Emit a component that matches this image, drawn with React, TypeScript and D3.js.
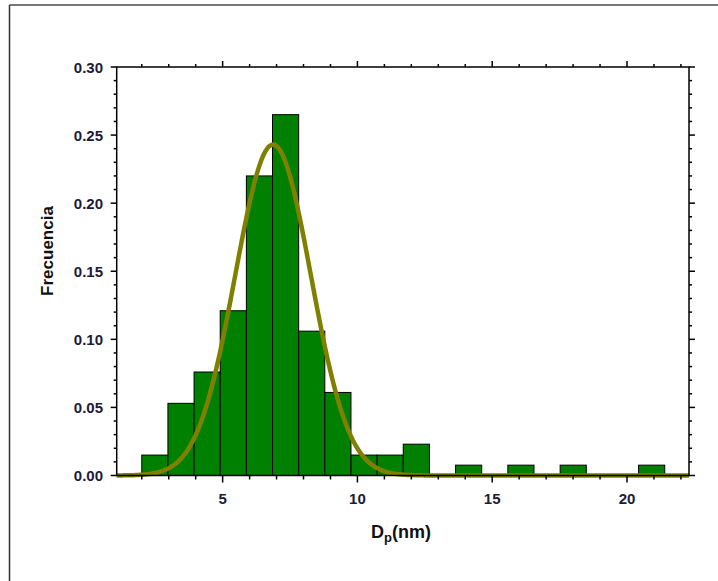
import React from "react";
import * as d3 from "d3";

// histogram of particle diameters (frequency per bin)
const binStart = 2.0;
const binWidth = 0.97;
const frequencies = [
  0.015, 0.053, 0.076, 0.121, 0.22, 0.265, 0.106, 0.061, 0.015, 0.015,
  0.023, 0, 0.0076, 0, 0.0076, 0, 0.0076, 0, 0, 0.0076,
];

// gaussian fit parameters
const fitCenter = 6.87;
const fitSigma = 1.4;
const fitPeak = 0.243;

const xMajorTicks = [5, 10, 15, 20];
const yMajorTicks = [0, 0.05, 0.1, 0.15, 0.2, 0.25, 0.3];
const yTickLabels = ["0.00", "0.05", "0.10", "0.15", "0.20", "0.25", "0.30"];

const W = 718, H = 581;
const left = 116.7, right = 689, top = 67, bottom = 475.5;

export default function App() {
  const x = d3.scaleLinear().domain([1.07, 22.3]).range([left, right]);
  const y = d3.scaleLinear().domain([0, 0.3]).range([bottom, top]);

  const xMinor = d3.range(2, 23, 1).filter((v) => v % 5 !== 0);
  const yMinor = d3.range(0, 31, 1).map((v) => v / 100).filter((v, i) => i % 5 !== 0);

  const fitX = d3.range(0, 401).map((i) => 1.07 + (i / 400) * (22.3 - 1.07));
  const line = d3
    .line<number>()
    .x((d) => x(d))
    .y((d) => y(fitPeak * Math.exp(-((d - fitCenter) ** 2) / (2 * fitSigma * fitSigma))));

  const font = "'Liberation Sans', Arial, sans-serif";
  const labelColor = "#1b1b3a";

  return (
    <svg width={W} height={H} style={{ position: "absolute", left: 0, top: 0, background: "#fff" }}>
      {/* outer frame */}
      <line x1={9.5} x2={W} y1={5} y2={5} stroke="#777" strokeWidth={2} />
      <line x1={9.5} x2={9.5} y1={5} y2={H} stroke="#333" strokeWidth={1.5} />

      {/* bars */}
      {frequencies.map((f, i) =>
        f > 0 ? (
          <rect
            key={i}
            x={x(binStart + i * binWidth)}
            y={y(f)}
            width={x(binStart + (i + 1) * binWidth) - x(binStart + i * binWidth)}
            height={y(0) - y(f)}
            fill="#008000"
            stroke="#000"
            strokeWidth={1}
          />
        ) : null
      )}

      {/* fit curve */}
      <path d={line(fitX) || ""} fill="none" stroke="#808000" strokeWidth={4.5} />

      {/* axis box */}
      <rect x={left} y={top} width={right - left} height={bottom - top} fill="none" stroke="#000" strokeWidth={1.5} />

      {/* x ticks bottom & top */}
      {xMinor.map((v) => (
        <g key={"xm" + v}>
          <line x1={x(v)} x2={x(v)} y1={bottom} y2={bottom + 4} stroke="#000" strokeWidth={1.5} />
          <line x1={x(v)} x2={x(v)} y1={top} y2={top - 3} stroke="#000" strokeWidth={1.5} />
        </g>
      ))}
      {xMajorTicks.map((v) => (
        <g key={"xM" + v}>
          <line x1={x(v)} x2={x(v)} y1={bottom} y2={bottom + 7} stroke="#000" strokeWidth={1.5} />
          <line x1={x(v)} x2={x(v)} y1={top} y2={top - 6} stroke="#000" strokeWidth={1.5} />
          <text x={x(v)} y={bottom + 28} textAnchor="middle" fontFamily={font} fontWeight="bold" fontSize={15} fill={labelColor}>
            {v}
          </text>
        </g>
      ))}

      {/* y ticks left & right */}
      {yMinor.map((v) => (
        <g key={"ym" + v}>
          <line x1={left} x2={left - 3} y1={y(v)} y2={y(v)} stroke="#000" strokeWidth={1.5} />
          <line x1={right} x2={right + 3} y1={y(v)} y2={y(v)} stroke="#000" strokeWidth={1.5} />
        </g>
      ))}
      {yMajorTicks.map((v, i) => (
        <g key={"yM" + v}>
          <line x1={left} x2={left - 6} y1={y(v)} y2={y(v)} stroke="#000" strokeWidth={1.5} />
          <line x1={right} x2={right + 6} y1={y(v)} y2={y(v)} stroke="#000" strokeWidth={1.5} />
          <text x={103} y={y(v) + 5.5} textAnchor="end" fontFamily={font} fontWeight="bold" fontSize={15} fill={labelColor}>
            {yTickLabels[i]}
          </text>
        </g>
      ))}

      {/* axis titles */}
      <text
        transform={`translate(53, 251) rotate(-90)`}
        textAnchor="middle"
        fontFamily={font}
        fontWeight="bold"
        fontSize={17}
        fill="#111"
      >
        Frecuencia
      </text>
      <text x={401} y={538} textAnchor="middle" fontFamily={font} fontWeight="bold" fontSize={18} fill="#111">
        D<tspan fontSize={13} dy={4}>p</tspan>
        <tspan dy={-4}>(nm)</tspan>
      </text>
    </svg>
  );
}
